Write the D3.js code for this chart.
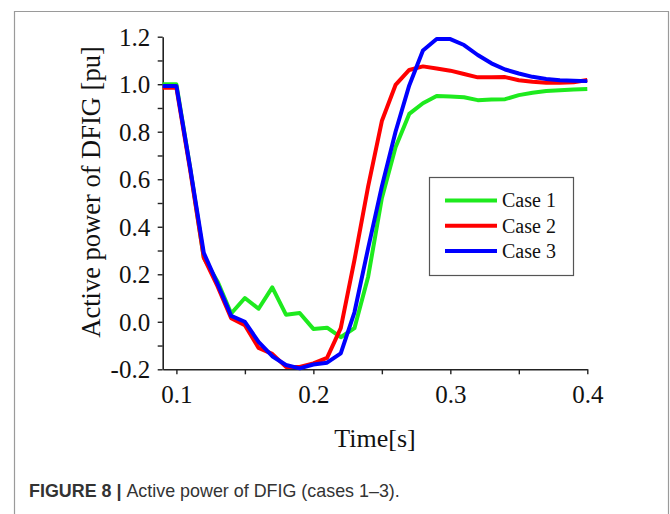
<!DOCTYPE html>
<html><head><meta charset="utf-8">
<script src="https://cdn.jsdelivr.net/npm/d3@7"></script>
<style>
html,body{margin:0;padding:0;background:#fff;}
svg{display:block;}
</style></head>
<body>
<svg id="chart" width="670" height="514"></svg>
<script>
const time = [0.09,0.10,0.11,0.12,0.13,0.14,0.15,0.16,0.17,0.18,0.19,0.20,0.21,0.22,0.23,0.24,0.25,0.26,0.27,0.28,0.29,0.30,0.31,0.32,0.33,0.34,0.35,0.36,0.37,0.38,0.39,0.40];
const case1 = [1.00,1.00,0.65,0.27,0.17,0.035,0.10,0.055,0.145,0.03,0.037,-0.03,-0.025,-0.065,-0.027,0.19,0.52,0.735,0.875,0.92,0.95,0.948,0.945,0.933,0.936,0.937,0.954,0.964,0.971,0.975,0.978,0.98];
const case2 = [0.985,0.985,0.64,0.27,0.15,0.015,-0.014,-0.11,-0.135,-0.19,-0.19,-0.175,-0.152,-0.027,0.26,0.57,0.845,0.997,1.06,1.075,1.066,1.057,1.043,1.029,1.029,1.03,1.017,1.01,1.006,1.006,1.008,1.018];
const case3 = [0.993,0.993,0.65,0.29,0.16,0.025,0.0,-0.085,-0.145,-0.182,-0.196,-0.18,-0.172,-0.133,0.04,0.31,0.57,0.80,0.995,1.142,1.19,1.19,1.165,1.123,1.088,1.062,1.045,1.031,1.022,1.017,1.015,1.013];
const seriesNames = ["Case 1","Case 2","Case 3"];
const seriesColors = ["#1eea1e","#ff0000","#0000ff"];
const xTicks = [0.1,0.2,0.3,0.4];
const xMinorTicks = [0.15,0.25,0.35];
const xTickLabels = ["0.1","0.2","0.3","0.4"];
const yTicks = [-0.2,0.0,0.2,0.4,0.6,0.8,1.0,1.2];
const yMinorTicks = [-0.1,0.1,0.3,0.5,0.7,0.9,1.1];
const yTickLabels = ["-0.2","0.0","0.2","0.4","0.6","0.8","1.0","1.2"];
const xTitle = "Time[s]";
const yTitle = "Active power of DFIG [pu]";
const captionBold = "FIGURE 8 | ";
const captionText = "Active power of DFIG (cases 1\u20133).";

const svg = d3.select("#chart");
const serif = "'Liberation Serif','Times New Roman',serif";

// figure frame
svg.append("path").attr("d","M14.5,520 V11.5 H668.5 V520")
  .attr("fill","none").attr("stroke","#9a9a9a").attr("stroke-width",1.2);

const x = d3.scaleLinear().domain([0.09,0.4]).range([162.7,587.3]);
const y = d3.scaleLinear().domain([-0.2,1.2]).range([369.3,36.7]);

// axes
const xAxis = svg.append("g").attr("transform",`translate(0,${y(-0.2)})`)
  .call(d3.axisBottom(x).tickValues(xTicks).tickSize(5).tickSizeOuter(0)
    .tickFormat((d,i)=>xTickLabels[i]));
xAxis.append("g").call(d3.axisBottom(x).tickValues(xMinorTicks).tickSize(5).tickSizeOuter(0).tickFormat(""))
  .select(".domain").remove();
const yAxis = svg.append("g").attr("transform",`translate(${x(0.09)},0)`)
  .call(d3.axisLeft(y).tickValues(yTicks).tickSize(5).tickSizeOuter(0)
    .tickFormat((d,i)=>yTickLabels[i]));
yAxis.append("g").call(d3.axisLeft(y).tickValues(yMinorTicks).tickSize(5).tickSizeOuter(0).tickFormat(""))
  .select(".domain").remove();

[xAxis,yAxis].forEach(a=>{
  a.selectAll(".domain").attr("stroke","#222").attr("stroke-width",1.6);
  a.selectAll(".tick line").attr("stroke","#222").attr("stroke-width",1.4);
  a.selectAll(".tick text").attr("font-family",serif).attr("font-size",25).attr("fill","#111");
});
xAxis.selectAll(".tick text").attr("y",16).attr("dy","0.71em");
yAxis.selectAll(".tick text").attr("x",-12.5).attr("dy","0.34em");

// lines
const line = d3.line().x((d,i)=>x(time[i])).y(d=>y(d));
[case1,case2,case3].forEach((s,k)=>{
  svg.append("path").datum(s).attr("d",line).attr("fill","none")
    .attr("stroke",seriesColors[k]).attr("stroke-width",4)
    .attr("stroke-linejoin","round");
});

// titles
svg.append("text").attr("x",375).attr("y",447).attr("text-anchor","middle")
  .attr("font-family",serif).attr("font-size",26).attr("fill","#111").text(xTitle);
svg.append("text").attr("transform","translate(100,192) rotate(-90)").attr("text-anchor","middle")
  .attr("font-family",serif).attr("font-size",26.5).attr("fill","#111").text(yTitle);

// legend
const lg = svg.append("g");
lg.append("rect").attr("x",429.5).attr("y",177.5).attr("width",144).attr("height",98)
  .attr("fill","#fff").attr("stroke","#555").attr("stroke-width",1.2);
seriesNames.forEach((n,k)=>{
  const ly = 200.5 + k*25.2;
  lg.append("line").attr("x1",445).attr("x2",497).attr("y1",ly).attr("y2",ly)
    .attr("stroke",seriesColors[k]).attr("stroke-width",4);
  lg.append("text").attr("x",502).attr("y",ly).attr("dy","0.34em")
    .attr("font-family",serif).attr("font-size",20).attr("fill","#111").text(n);
});

// caption (condensed look: horizontally compressed sans)
const capG = svg.append("g").attr("transform","translate(29,497)");
const cap = capG.append("text").attr("x",0).attr("y",0)
  .attr("font-family","'Liberation Sans',Arial,sans-serif")
  .attr("font-size",18).attr("fill","#333");
cap.append("tspan").attr("font-weight","bold").attr("fill","#333").text(captionBold);
cap.append("tspan").text(captionText);
const w = cap.node().getComputedTextLength();
capG.attr("transform",`translate(29,497) scale(${371/w},1)`);
</script>
</body></html>
